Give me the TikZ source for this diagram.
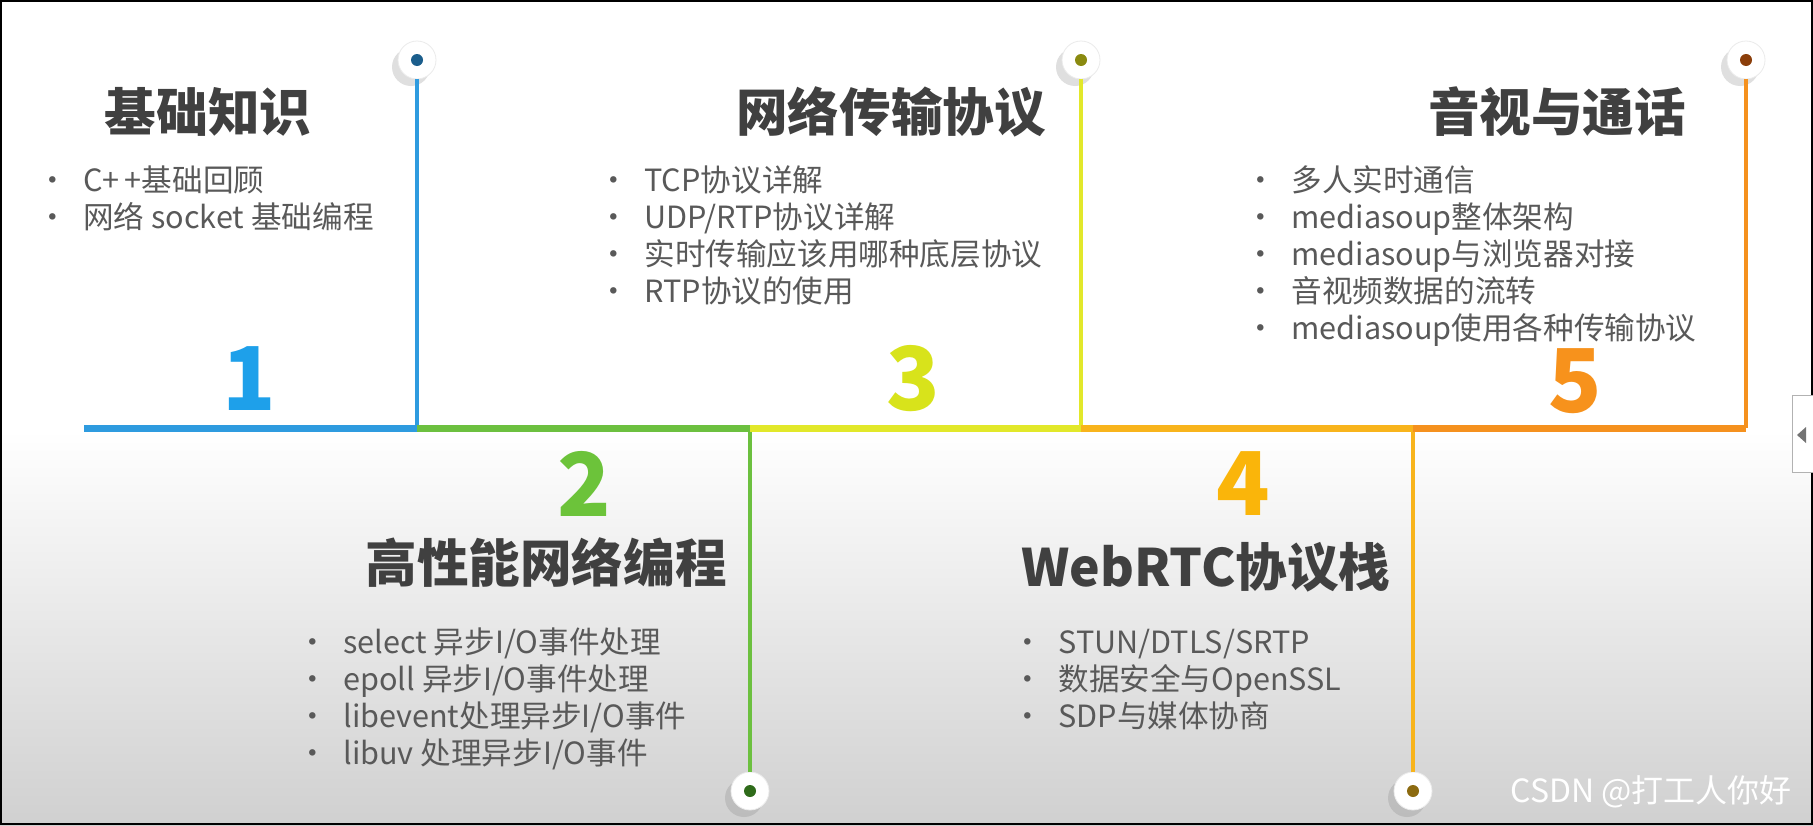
\documentclass[tikz,border=0pt]{standalone}
\usepackage{fontspec}
\setmainfont{Noto Sans CJK SC}
\usetikzlibrary{positioning,shadows}
\definecolor{BgGray}{HTML}{D0D0D0}
\definecolor{LineBlue}{HTML}{2E9BDF}
\definecolor{LineGreen}{HTML}{6CC03F}
\definecolor{LineLime}{HTML}{E2E82A}
\definecolor{LineGold}{HTML}{F8B41C}
\definecolor{LineOrange}{HTML}{F5911E}
\definecolor{NumBlue}{HTML}{1EA0EA}
\definecolor{NumGreen}{HTML}{6CC33A}
\definecolor{NumLime}{HTML}{D8E31B}
\definecolor{NumGold}{HTML}{FAB50A}
\definecolor{NumOrange}{HTML}{F7921C}
\definecolor{TitleGray}{HTML}{404040}
\definecolor{TextGray}{HTML}{595959}
\newcommand{\bitem}{\makebox[31pt][c]{•}}

\begin{document}
\begin{tikzpicture}[
			x=0.5pt, y=-0.5pt,
			pin/.style={circle, fill=white, draw=black!8, minimum size=19pt, inner sep=0pt,
				drop shadow={shadow xshift=-3pt, shadow yshift=-3.5pt, opacity=0.25}},
			pindot/.style={circle, minimum size=6pt, inner sep=0pt},
			title/.style={font=\fontsize{25.8}{28}\selectfont\bfseries, text=TitleGray, inner sep=0pt},
			items/.style={font=\fontsize{15.3}{18.5}\selectfont, text=TextGray, align=left, anchor=north west, inner sep=0pt},
			num/.style={font=\fontsize{44}{48}\selectfont\bfseries, inner sep=0pt},
			axis/.style={line width=3.5pt},
			stem/.style={line width=1.8pt}
			]
			
			% Background
			\useasboundingbox (0,0) rectangle (1813,825);
			\fill[white] (0,0) rectangle (1813,825);
			\shade[top color=white, bottom color=BgGray] (0,430) rectangle (1813,825);
			\draw[line width=1pt] (1,1) rectangle (1812,824);
			
			% Timeline joints
			\coordinate (start) at (84,428);
			\coordinate (j1) at (417,428);
			\coordinate (j2) at (750,428);
			\coordinate (j3) at (1081,428);
			\coordinate (j4) at (1413,428);
			\coordinate (j5) at (1746,428);
			
			% Pins
			\node[pin] (p1) at (417,60) {};
			\node[pin] (p2) at (750,791) {};
			\node[pin] (p3) at (1081,60) {};
			\node[pin] (p4) at (1413,791) {};
			\node[pin] (p5) at (1746,60) {};
			\node[pindot, fill={rgb,255:red,27;green,94;blue,140}] (d1) at (p1) {};
			\node[pindot, fill={rgb,255:red,47;green,107;blue,26}] (d2) at (p2) {};
			\node[pindot, fill={rgb,255:red,138;green,138;blue,16}] (d3) at (p3) {};
			\node[pindot, fill={rgb,255:red,140;green,106;blue,16}] (d4) at (p4) {};
			\node[pindot, fill={rgb,255:red,139;green,62;blue,10}] (d5) at (p5) {};
			
			% Stems
			\draw[stem, LineBlue] (p1.south) -- (j1);
			\draw[stem, LineGreen] (j2) -- (p2.north);
			\draw[stem, LineLime] (p3.south) -- (j3);
			\draw[stem, LineGold] (j4) -- (p4.north);
			\draw[stem, LineOrange] (p5.south) -- (j5);
			
			% Axis
			\draw[axis, LineBlue] (start) -- (j1);
			\draw[axis, LineGreen] (j1) -- (j2);
			\draw[axis, LineLime] (j2) -- (j3);
			\draw[axis, LineGold] (j3) -- (j4);
			\draw[axis, LineOrange] (j4) -- (j5);
			
			% Numbers
			\node[num, text=NumBlue] (n1) at (249,379) {1};
			\node[num, text=NumGreen] (n2) at (584,484) {2};
			\node[num, text=NumLime] (n3) at (913,379) {3};
			\node[num, text=NumGold] (n4) at (1243,484) {4};
			\node[num, text=NumOrange] (n5) at (1575,381) {5};
			
			% Titles
			\node[title] (t1) at (208,112) {基础知识};
			\node[title] (t2) at (546,563) {高性能网络编程};
			\node[title] (t3) at (891,112) {网络传输协议};
			\node[title] (t4) at (1206,567) {WebRTC协议栈};
			\node[title] (t5) at (1557,112) {音视与通话};
			
			% Items
			\node[items] (i1) at (21,165)
			{\bitem C+\,+基础回顾\\
				\bitem 网络 socket 基础编程};
			
			\node[items] (i2) at (281,627)
			{\bitem select 异步I/O事件处理\\
				\bitem epoll 异步I/O事件处理\\
				\bitem libevent处理异步I/O事件\\
				\bitem libuv 处理异步I/O事件};
			
			\node[items] (i3) at (582,165)
			{\bitem TCP协议详解\\
				\bitem UDP/RTP协议详解\\
				\bitem 实时传输应该用哪种底层协议\\
				\bitem RTP协议的使用};
			
			\node[items] (i4) at (996,629)
			{\bitem STUN/DTLS/SRTP\\
				\bitem 数据安全与OpenSSL\\
				\bitem SDP与媒体协商};
			
			\node[items] (i5) at (1229,165)
			{\bitem 多人实时通信\\
				\bitem mediasoup整体架构\\
				\bitem mediasoup与浏览器对接\\
				\bitem 音视频数据的流转\\
				\bitem mediasoup使用各种传输协议};
			
			% Slide arrow and watermark
			\draw[black!30, fill=white] (1792,395) rectangle (1815,472);
			\fill[black!55] (1797,435) -- (1806,427) -- (1806,443) -- cycle;
			\node[font=\fontsize{16}{16}\selectfont, text=white] (wm) at (1651,792) {CSDN @打工人你好};
			
		\end{tikzpicture}
\end{document}
